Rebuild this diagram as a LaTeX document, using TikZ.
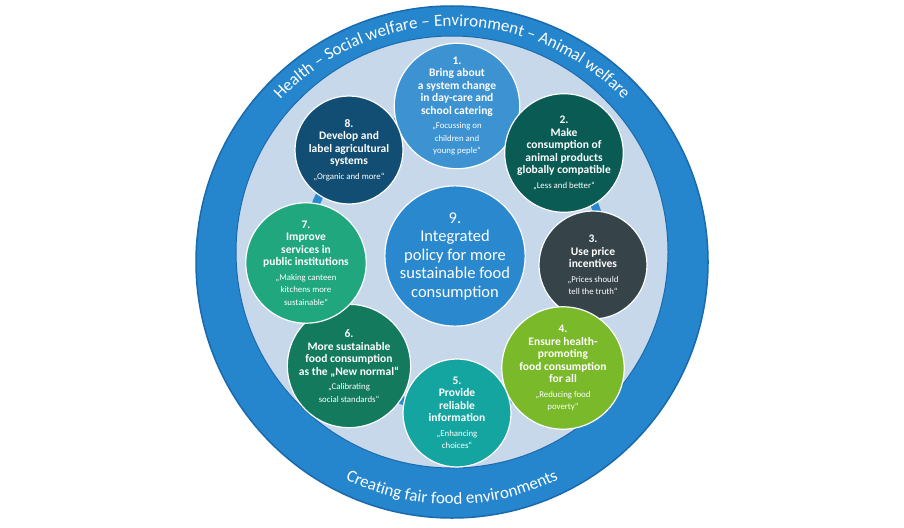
\documentclass[tikz,border=0pt]{standalone}
\usepackage{fontspec}
\setmainfont{Carlito}
\usetikzlibrary{decorations.text}
\definecolor{ringblue}{HTML}{2585CD}
\definecolor{ringedge}{HTML}{1A6AAE}
\definecolor{disc}{HTML}{C7D8EA}
\definecolor{cA}{HTML}{3D93D2}
\definecolor{cB}{HTML}{0B5B55}
\definecolor{cC}{HTML}{36444A}
\definecolor{cD}{HTML}{7AB929}
\definecolor{cE}{HTML}{14A5A0}
\definecolor{cF}{HTML}{137A5E}
\definecolor{cG}{HTML}{20A77E}
\definecolor{cH}{HTML}{124E73}
\definecolor{cI}{HTML}{2A88CF}
\tikzset{
  goal/.style={circle, minimum size=108pt, inner sep=0pt, draw=white, line width=1.2pt, fill=#1, text=white, align=center, font=\fontsize{11.5}{12.5}\selectfont\bfseries}
}
\newcommand{\qf}{\fontsize{8.8}{9.6}\selectfont\mdseries}
\begin{document}
\begin{tikzpicture}[x=1pt,y=-1pt]
\useasboundingbox (0,0) rectangle (904,527);
\fill[white] (0,0) rectangle (904,527);
\fill[ringblue, draw=ringedge, line width=1.5pt] (452,262) circle (256);
\fill[disc, draw=ringedge, line width=1pt] (452,252) circle (216);
\begin{scope}[shift={(452,262)}, x=1pt, y=1pt]
\path[decorate, decoration={text along path, text align=center,
  text={|\fontsize{17}{17}\selectfont\color{white}|Health – Social welfare – Environment – Animal welfare}}]
  (162:236) arc[start angle=162, end angle=18, radius=236];
\path[decorate, decoration={text along path, text align=center,
  text={|\fontsize{17}{17}\selectfont\color{white}|Creating fair food environments}}]
  (205:242) arc[start angle=205, end angle=335, radius=242];
\end{scope}
\draw[cI, line width=8pt] (455,260) circle (150);
\node[goal=cA] (n1) at (457,106) {1.\\Bring about\\a system change\\in day-care and\\school catering\\[2pt]\qf „Focussing on\\\qf children and\\\qf young peple“};
\node[goal=cB] (n2) at (564,153) {2.\\Make\\consumption of\\animal products\\globally compatible\\[2pt]\qf „Less and better“};
\node[goal=cC] (n3) at (593,265) {3.\\Use price\\incentives\\[2pt]\qf „Prices should\\\qf tell the truth“};
\node[goal=cD] (n4) at (563,368) {4.\\Ensure health-\\promoting\\food consumption\\for all\\[2pt]\qf „Reducing food\\\qf poverty“};
\node[goal=cE] (n5) at (457,413) {5.\\Provide\\reliable\\information\\[2pt]\qf „Enhancing\\\qf choices“};
\node[goal=cF] (n6) at (349,366) {6.\\More sustainable\\food consumption\\as the „New normal“\\[2pt]\qf „Calibrating\\\qf social standards“};
\node[goal=cG] (n7) at (306,263) {7.\\Improve\\services in\\public institutions\\[2pt]\qf „Making canteen\\\qf kitchens more\\\qf sustainable“};
\node[goal=cH] (n8) at (349,150) {8.\\Develop and\\label agricultural\\systems\\[2pt]\qf „Organic and more“};
\node[circle, minimum size=136pt, inner sep=0pt, draw=white, line width=1.2pt, fill=cI, text=white, align=center, font=\fontsize{16.5}{18.5}\selectfont] (n9) at (455,256) {9.\\Integrated\\policy for more\\sustainable food\\consumption};
\end{tikzpicture}
\end{document}
